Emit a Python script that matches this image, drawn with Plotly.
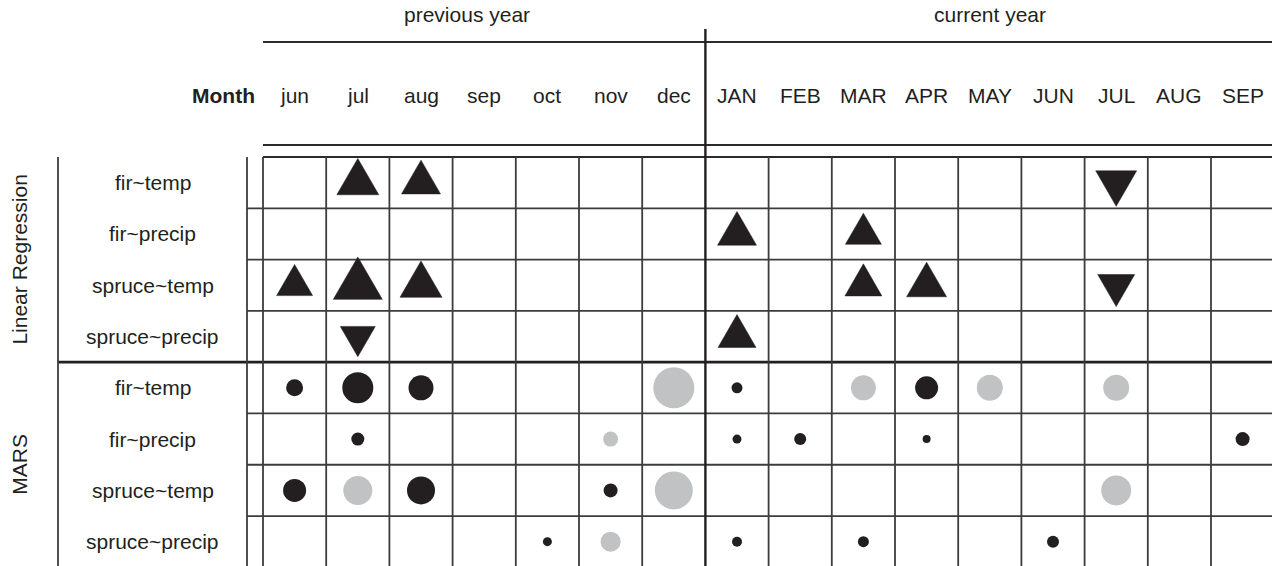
import math
import plotly.graph_objects as go

# ---- data -------------------------------------------------------------
months = ["jun", "jul", "aug", "sep", "oct", "nov", "dec",
          "JAN", "FEB", "MAR", "APR", "MAY", "JUN", "JUL", "AUG", "SEP"]
models = ["fir~temp", "fir~precip", "spruce~temp", "spruce~precip"]
groups = ["Linear Regression", "MARS"]

# Linear regression: signed effect strength (+ = positive, - = negative), None = not significant
lr_fir_temp = [None, 4.2, 3.9, None, None, None, None,
               None, None, None, None, None, None, -4.1, None, None]
lr_fir_precip = [None, None, None, None, None, None, None,
                 3.9, None, 3.6, None, None, None, None, None, None]
lr_spruce_temp = [3.6, 4.9, 4.2, None, None, None, None,
                  None, None, 3.7, 4.0, None, None, -3.7, None, None]
lr_spruce_precip = [None, -3.5, None, None, None, None, None,
                    3.8, None, None, None, None, None, None, None, None]

# MARS: signed variable importance (+ = positive, - = negative), None = not selected
mars_fir_temp = [1.7, 3.1, 2.5, None, None, None, -4.1,
                 1.1, None, -2.5, 2.3, -2.6, None, -2.6, None, None]
mars_fir_precip = [None, 1.3, None, None, None, -1.5, None,
                   0.9, 1.2, None, 0.8, None, None, None, None, 1.4]
mars_spruce_temp = [2.3, -2.9, 2.8, None, None, 1.4, -3.8,
                    None, None, None, None, None, None, -3.0, None, None]
mars_spruce_precip = [None, None, None, None, 0.9, -2.0, None,
                      1.0, None, 1.1, None, None, 1.2, None, None, None]

lr_rows = [lr_fir_temp, lr_fir_precip, lr_spruce_temp, lr_spruce_precip]
mars_rows = [mars_fir_temp, mars_fir_precip, mars_spruce_temp, mars_spruce_precip]

# ---- layout geometry ----------------------------------------------------
W, H = 1272, 566
GRID_LEFT, COL_W = 263.0, 63.2     # pixel left of first column, column width
GRID_TOP, ROW_H = 157.0, 51.29     # pixel top of first row, row height
X0 = -0.5 - GRID_LEFT / COL_W
X1 = X0 + W / COL_W
YT = -0.5 - GRID_TOP / ROW_H
YB = YT + H / ROW_H
PX_PER_UNIT = 10.0                 # marker pixels per unit of effect strength

INK = "#231f20"
LIGHT = "#c1c2c4"
LINE = "#3c3c3c"
FONT = "Liberation Sans, Arial, Helvetica, sans-serif"


def xd(px):
    return X0 + px / COL_W


def yd(py):
    return YT + py / ROW_H


fig = go.Figure()

# ---- triangles (linear regression) ---------------------------------------
tx, ty = [], []
for r, row in enumerate(lr_rows):
    for c, v in enumerate(row):
        if v is None:
            continue
        w = abs(v) * PX_PER_UNIT
        hw = w / 2 / COL_W
        hh = w * math.sqrt(3) / 2 / ROW_H
        s = 1 if v > 0 else -1
        tip = r - s * 2 * hh / 3
        base = r + s * hh / 3
        tx += [c - hw, c + hw, c, c - hw, None]
        ty += [base, base, tip, base, None]
fig.add_trace(go.Scatter(x=tx, y=ty, mode="lines", fill="toself",
                         fillcolor=INK, line=dict(color=INK, width=0.5),
                         hoverinfo="skip", showlegend=False))

# ---- circles (MARS) -----------------------------------------------------
for sign, color in [(1, INK), (-1, LIGHT)]:
    cx, cy, cs = [], [], []
    for r, row in enumerate(mars_rows):
        for c, v in enumerate(row):
            if v is None or (v > 0) != (sign > 0):
                continue
            cx.append(c)
            cy.append(r + 4)
            cs.append(abs(v))
    fig.add_trace(go.Scatter(x=cx, y=cy, mode="markers",
                             marker=dict(size=cs, sizemode="diameter",
                                         sizeref=1 / PX_PER_UNIT, color=color,
                                         opacity=1, line=dict(width=0)),
                             hoverinfo="skip", showlegend=False))

# ---- frame lines --------------------------------------------------------
shapes = []


def seg(x0, y0, x1, y1, width=1.8, color=LINE):
    shapes.append(dict(type="line", xref="x", yref="y", x0=x0, y0=y0,
                       x1=x1, y1=y1, line=dict(color=color, width=width),
                       layer="below"))


n_cols, n_rows = len(months), 2 * len(models)
right = n_cols - 0.5
bottom = n_rows - 0.5
# header rules
seg(-0.5, yd(42), right, yd(42), 2.0, "#2b2b2b")
seg(-0.5, yd(145), right, yd(145), 2.0, "#2b2b2b")
# grid top
seg(-0.5, -0.5, right, -0.5, 2.0, "#2b2b2b")
# row separators
for k in range(1, n_rows):
    if k == len(models):
        seg(xd(58), k - 0.5, right, k - 0.5, 2.6, INK)
    else:
        seg(xd(247), k - 0.5, right, k - 0.5, 1.8)
# column separators
for k in range(n_cols + 1):
    if k == 7:
        seg(k - 0.5, yd(29), k - 0.5, bottom, 2.4, INK)
    else:
        seg(k - 0.5, -0.5, k - 0.5, bottom, 1.8)
# left label frame
seg(xd(58), -0.5, xd(58), bottom, 1.8)
seg(xd(247), -0.5, xd(247), bottom, 1.8)

# ---- text ---------------------------------------------------------------
ann = []


def text(x, y, s, size=21, bold=False, angle=0, xanchor="center", xref="x", yref="y"):
    ann.append(dict(x=x, y=y, xref=xref, yref=yref, text=f"<b>{s}</b>" if bold else s,
                    showarrow=False, xanchor=xanchor, yanchor="middle",
                    textangle=angle, font=dict(family=FONT, size=size, color=INK)))


text(xd(467), yd(14), "previous year")
text(xd(990), yd(14), "current year")
text(xd(257), yd(95), "Month", bold=True, xanchor="right")
for c, m in enumerate(months):
    text(c, yd(95), m)
for g in range(2):
    for r, m in enumerate(models):
        text(xd(152.5), g * len(models) + r, m)
    text(xd(20), g * len(models) + (len(models) - 1) / 2, groups[g], angle=-90)

fig.update_layout(
    width=W, height=H,
    margin=dict(l=0, r=0, t=0, b=0),
    paper_bgcolor="white", plot_bgcolor="white",
    xaxis=dict(range=[X0, X1], visible=False, fixedrange=True),
    yaxis=dict(range=[YB, YT], visible=False, fixedrange=True),
    shapes=shapes, annotations=ann,
)

fig.write_html("out.html", config={"displayModeBar": False})
